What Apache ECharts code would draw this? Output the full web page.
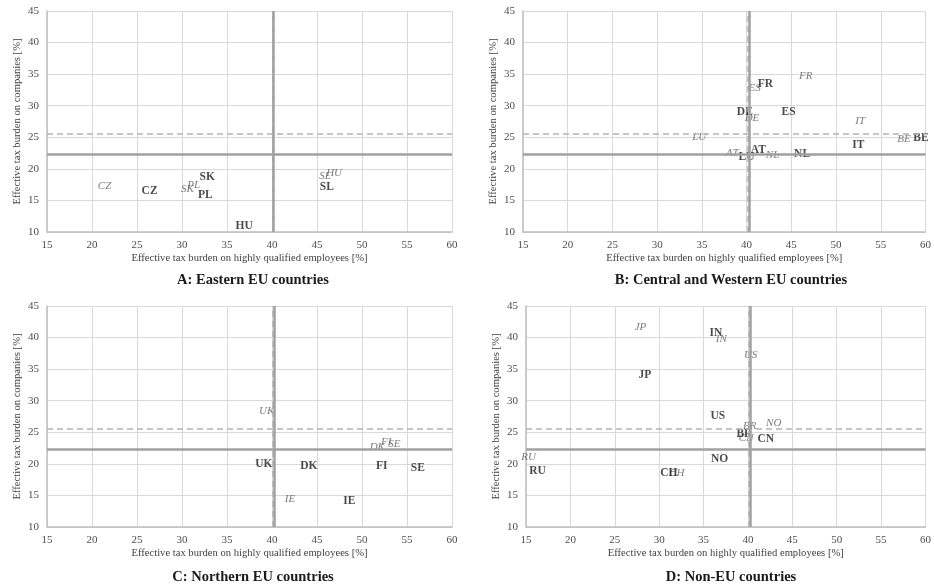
<!DOCTYPE html>
<html>
<head>
<meta charset="utf-8">
<script src="https://cdn.jsdelivr.net/npm/echarts@6/dist/echarts.min.js"></script>
<style>
  html, body { margin: 0; padding: 0; background: #fff; }
  #main { width: 934px; height: 587px; }
</style>
</head>
<body>
<div id="main"></div>
<script>
var chartDom = document.getElementById('main');
var myChart = echarts.init(chartDom);
var option;

// country codes per panel
var codesA = ['CZ', 'SK', 'PL', 'HU', 'SL'];
var codesB = ['AT', 'BE', 'DE', 'ES', 'FR', 'IT', 'LU', 'NL'];
var codesC = ['DK', 'FI', 'IE', 'SE', 'UK'];
var codesD = ['BR', 'CH', 'CN', 'IN', 'JP', 'NO', 'RU', 'US'];

// bold labels [employees %, companies %]
var boldA = [[26.4, 16.5], [32.8, 18.7], [32.6, 15.9], [36.9, 11.0], [46.1, 17.2]];
var boldB = [[41.3, 23.0], [59.5, 24.9], [39.8, 29.0], [44.7, 29.0], [42.1, 33.4], [52.5, 23.7], [40.0, 21.8], [46.2, 22.4]];
var boldC = [[44.1, 19.7], [52.2, 19.6], [48.6, 14.1], [56.2, 19.3], [39.1, 20.0]];
var boldD = [[39.6, 24.7], [31.1, 18.6], [42.0, 24.0], [36.4, 40.7], [28.4, 34.0], [36.8, 20.7], [16.3, 18.8], [36.6, 27.5]];

// italic labels
var italA = [[21.4, 17.3], [30.6, 16.8], [31.3, 17.4], [46.9, 19.4], [45.9, 18.9]];
var italB = [[38.4, 22.5], [57.6, 24.7], [40.6, 28.0], [40.9, 32.8], [46.6, 34.7], [52.7, 27.5], [34.7, 25.0], [42.9, 22.1]];
var italC = [[51.7, 22.7], [52.7, 23.5], [42.0, 14.4], [53.6, 23.1], [39.4, 28.3]];
var italD = [[40.2, 26.0], [32.0, 18.6], [39.8, 24.1], [37.0, 39.8], [27.9, 41.6], [42.9, 26.4], [15.3, 21.1], [40.3, 37.3]];

// reference lines
var solidX = [40.1, 40.3, 40.3, 40.3];
var solidY = 22.3;
var dashX = 40.1;
var dashY = 25.5;

var panelTitles = ['A: Eastern EU countries', 'B: Central and Western EU countries', 'C: Northern EU countries', 'D: Non-EU countries'];
var xName = 'Effective tax burden on highly qualified employees [%]';
var yName = 'Effective tax burden on companies [%]';

var FONT = '"Liberation Serif", "Times New Roman", serif';

var grids = [
    { left: 47, top: 11, width: 405, height: 221 },
    { left: 523, top: 11, width: 405, height: 221 },
    { left: 47, top: 306, width: 405, height: 221 },
    { left: 526, top: 306, width: 406, height: 221 }
];
var titlePos = [[248, 268], [726, 268], [248, 565], [726, 565]];

var panels = [
    [codesA, boldA, italA],
    [codesB, boldB, italB],
    [codesC, boldC, italC],
    [codesD, boldD, italD]
];

function toData(codes, pts) {
    return pts.map(function (p, i) { return { name: codes[i], value: p }; });
}

var xAxes = [], yAxes = [], series = [], titles = [];

panels.forEach(function (p, i) {
    xAxes.push({
        gridIndex: i, type: 'value', min: 15, max: 60, interval: 5,
        name: xName, nameLocation: 'middle', nameGap: 21,
        nameTextStyle: { fontFamily: FONT, fontSize: 10.6, color: '#404040' },
        axisLine: { show: true, onZero: false, lineStyle: { color: '#bfbfbf', width: 1.5 } },
        axisTick: { show: false },
        axisLabel: { fontFamily: FONT, fontSize: 11, color: '#4d4d4d', margin: 8 },
        splitLine: { show: true, lineStyle: { color: '#d9d9d9', width: 1 } }
    });
    yAxes.push({
        gridIndex: i, type: 'value', min: 10, max: 45, interval: 5,
        name: yName, nameLocation: 'middle', nameGap: 24,
        nameTextStyle: { fontFamily: FONT, fontSize: 10.6, color: '#404040' },
        axisLine: { show: true, onZero: false, lineStyle: { color: '#bfbfbf', width: 1.5 } },
        axisTick: { show: false },
        axisLabel: { fontFamily: FONT, fontSize: 11, color: '#4d4d4d', margin: 8 },
        splitLine: { show: true, lineStyle: { color: '#d9d9d9', width: 1 } }
    });
    titles.push({
        text: panelTitles[i], left: titlePos[i][0], top: titlePos[i][1], textAlign: 'center',
        textStyle: { fontFamily: FONT, fontSize: 14.5, fontWeight: 'bold', color: '#1a1a1a' }
    });
    // reference lines
    series.push({
        type: 'scatter', xAxisIndex: i, yAxisIndex: i, data: [], z: 1, silent: true,
        markLine: {
            silent: true, symbol: 'none', label: { show: false }, animation: false,
            data: [
                { yAxis: dashY, lineStyle: { color: '#b3b3b3', width: 1.5, type: [6, 4] } },
                { xAxis: dashX, lineStyle: { color: '#b3b3b3', width: 1.5, type: [6, 4] } },
                { yAxis: solidY, lineStyle: { color: '#a0a0a0', width: 2.5, type: 'solid' } },
                { xAxis: solidX[i], lineStyle: { color: '#a0a0a0', width: 2.5, type: 'solid' } }
            ]
        }
    });
    series.push({
        type: 'scatter', xAxisIndex: i, yAxisIndex: i, symbolSize: 0, z: 3,
        data: toData(p[0], p[2]),
        label: {
            show: true, position: 'inside', formatter: '{b}',
            fontFamily: FONT, fontSize: 11, fontStyle: 'italic', color: '#595959'
        }
    });
    series.push({
        type: 'scatter', xAxisIndex: i, yAxisIndex: i, symbolSize: 0, z: 4,
        data: toData(p[0], p[1]),
        label: {
            show: true, position: 'inside', formatter: '{b}',
            fontFamily: FONT, fontSize: 11.5, fontWeight: 'bold', color: '#1a1a1a'
        }
    });
});

option = {
    animation: false,
    backgroundColor: '#ffffff',
    title: titles,
    grid: grids,
    xAxis: xAxes,
    yAxis: yAxes,
    series: series
};

option && myChart.setOption(option);
</script>
</body>
</html>
